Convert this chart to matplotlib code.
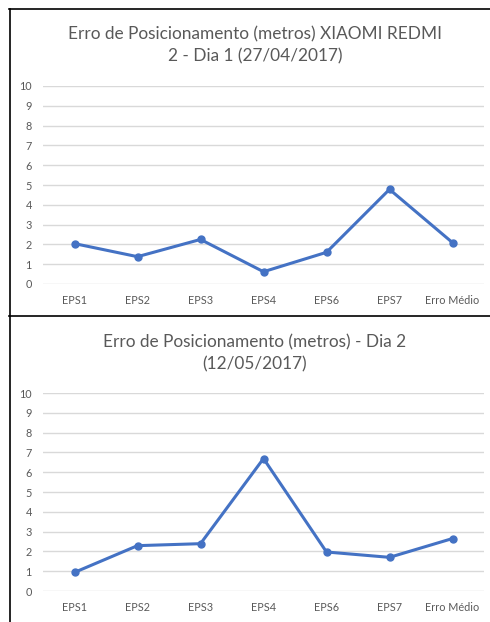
import matplotlib.pyplot as plt
from matplotlib.lines import Line2D

categorias = ['EPS1', 'EPS2', 'EPS3', 'EPS4', 'EPS6', 'EPS7', 'Erro Médio']
erro_dia1 = [2.04, 1.38, 2.25, 0.62, 1.6, 4.78, 2.09]
erro_dia2 = [0.94, 2.29, 2.39, 6.69, 1.97, 1.7, 2.65]
titulo_dia1 = 'Erro de Posicionamento (metros) XIAOMI REDMI\n2 - Dia 1 (27/04/2017)'
titulo_dia2 = 'Erro de Posicionamento (metros) - Dia 2\n(12/05/2017)'

plt.rcParams['font.family'] = ['Lato', 'DejaVu Sans']
cinza = '#595959'
azul = '#4472C4'

fig = plt.figure(figsize=(4.9, 6.22), dpi=100)
W, H = 490, 622


def desenhar(ax, valores):
    x = range(len(categorias))
    ax.plot(x, valores, color=azul, linewidth=2.2, marker='o', markersize=5)
    ax.set_xlim(-0.5, len(categorias) - 0.5)
    ax.set_ylim(0, 10)
    ax.set_yticks(range(0, 11))
    ax.set_xticks(list(x))
    ax.set_xticklabels(categorias)
    ax.grid(axis='y', color='#D9D9D9', linewidth=1)
    ax.set_axisbelow(True)
    for s in ax.spines.values():
        s.set_visible(False)
    ax.tick_params(axis='both', length=0, labelsize=7.8, labelcolor=cinza)
    ax.tick_params(axis='y', pad=8)
    ax.tick_params(axis='x', pad=8)


# grafico de cima: eixo de y=86 a y=284 px
ax1 = fig.add_axes([43 / W, 1 - 284 / H, 441 / W, 198 / H])
desenhar(ax1, erro_dia1)
fig.text(255 / W, 1 - 45.5 / H, titulo_dia1, ha='center', va='center',
         fontsize=12.4, color=cinza, linespacing=1.45)

# grafico de baixo
ax2 = fig.add_axes([43 / W, 1 - 591 / H, 441 / W, 198 / H])
desenhar(ax2, erro_dia2)
fig.text(255 / W, 1 - 353.5 / H, titulo_dia2, ha='center', va='center',
         fontsize=12.4, color=cinza, linespacing=1.45)

# bordas pretas
for xs, ys in [((9.5, 9.5), (9, H)), ((9, W), (9, 9)), ((9, W), (315.5, 315.5))]:
    fig.add_artist(Line2D([x / W for x in xs], [1 - y / H for y in ys],
                          color='black', linewidth=1.2))

fig.savefig('out.png', dpi=100)
